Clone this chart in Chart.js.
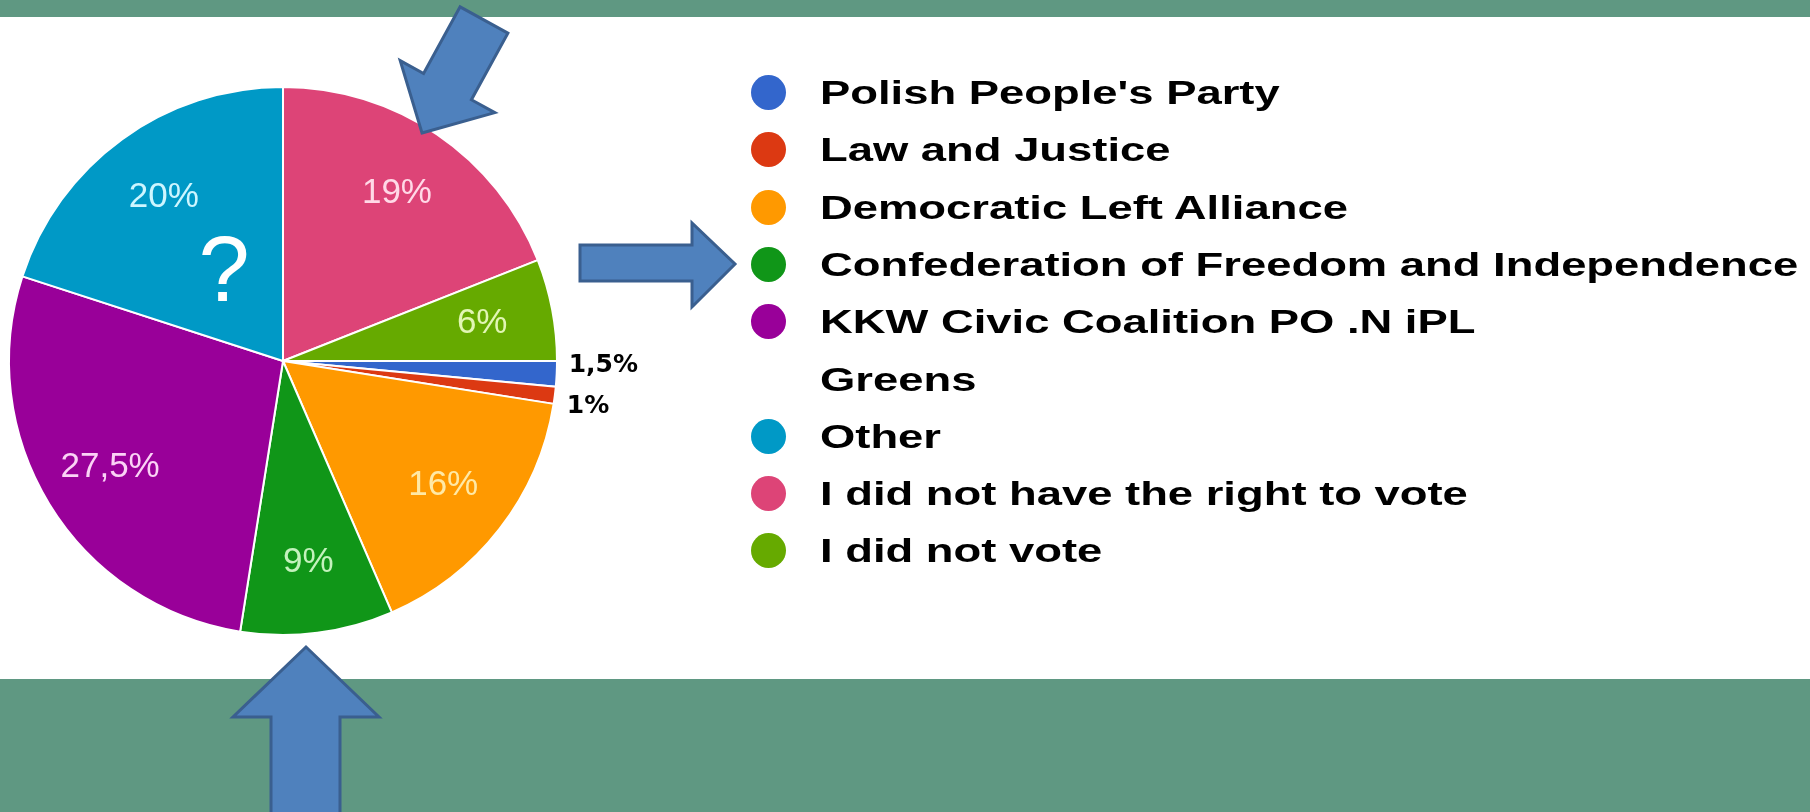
<!DOCTYPE html>
<html>
<head>
<meta charset="utf-8">
<script src="https://cdn.jsdelivr.net/npm/chart.js@4.4.1/dist/chart.umd.min.js"></script>
<style>
    html, body { margin: 0; padding: 0; }
    body {
        width: 1810px; height: 812px; overflow: hidden; position: relative;
        background: #5f9882;
        font-family: "Liberation Sans", Arial, sans-serif;
    }
    #pannello { position: absolute; left: 0; top: 17px; width: 1810px; height: 662px; background: #ffffff; }
    #grafico { position: absolute; left: 0; top: 0; }
    #legenda { position: absolute; left: 751px; top: 46.9px; }
    .voce { height: 57.3px; display: flex; align-items: center; }
    .pallino { width: 35px; height: 35px; border-radius: 50%; flex: none; margin-right: 34px; }
    .testo {
        display: inline-block; white-space: nowrap; line-height: 1;
        font-weight: bold; font-size: 33px; color: #000;
        transform: scaleX(1.375); transform-origin: 0 50%;
    }
    #frecce { position: absolute; left: 0; top: 0; pointer-events: none; }
</style>
</head>
<body>
<div id="pannello">
    <canvas id="grafico" width="1810" height="662"></canvas>
    <div id="legenda"></div>
</div>
<svg id="frecce" width="1810" height="812">
    <text x="224" y="301" text-anchor="middle" font-family="Liberation Sans, Arial, sans-serif" font-size="92" fill="#ffffff">?</text>
    <g fill="#4f81bd" stroke="#3a5f8f" stroke-width="3" stroke-linejoin="miter">
        <polygon points="422,133 494.8,112.6 471.4,99.7 507.9,33.1 460.1,6.9 423.6,73.5 400.2,60.6"/>
        <polygon points="580,245 692,245 692,223 735,264 692,307 692,281 580,281"/>
        <polygon points="306,647 379,717 340,717 340,815 271,815 271,717 233,717"/>
    </g>
</svg>
<script>
// Dati del grafico (percentuali)
const etichette = [
    "Polish People's Party",
    "Law and Justice",
    "Democratic Left Alliance",
    "Confederation of Freedom and Independence",
    "KKW Civic Coalition PO .N iPL",
    "Greens",
    "Other",
    "I did not have the right to vote",
    "I did not vote"
];
const percentuali = [1.5, 1, 16, 9, 27.5, 0, 20, 19, 6];
const colori = ["#3366cc", "#dc3912", "#ff9900", "#109618", "#990099", "#ffffff", "#0099c6", "#dd4477", "#66aa00"];
// colore del testo dentro le fette
const coloriEtichette = ["#000000", "#000000", "#ffe9a6", "#c4f2bd", "#fbd2f6", "#ffffff", "#cdf6ff", "#ffd9e7", "#e2f6b4"];

// Percentuali sulle fette: dentro se la fetta e' grande, fuori (in nero) se piccola
const pluginPercentuali = {
    id: "percentuali",
    afterDatasetsDraw(chart) {
        const ctx = chart.ctx;
        const meta = chart.getDatasetMeta(0);
        const esterne = [];

        meta.data.forEach((arco, i) => {
            const valore = percentuali[i];
            if (!valore) return;
            const { x, y, startAngle, endAngle, outerRadius } =
                arco.getProps(["x", "y", "startAngle", "endAngle", "outerRadius"], true);
            const medio = (startAngle + endAngle) / 2;
            const testo = String(valore).replace(".", ",") + "%";

            if (valore >= 3) {
                const r = outerRadius * 0.74;
                ctx.save();
                ctx.font = "35px 'Liberation Sans', Arial, sans-serif";
                ctx.fillStyle = coloriEtichette[i];
                ctx.textAlign = "center";
                ctx.textBaseline = "middle";
                ctx.fillText(testo, x + Math.cos(medio) * r, y + Math.sin(medio) * r);
                ctx.restore();
            } else {
                const r = outerRadius + 12;
                esterne.push({ testo, x: x + Math.cos(medio) * r, y: y + Math.sin(medio) * r });
            }
        });

        // allontana le etichette esterne troppo vicine
        const distanza = 41;
        for (let k = 1; k < esterne.length; k++) {
            const a = esterne[k - 1], b = esterne[k];
            if (b.y - a.y < distanza) {
                const centro = (a.y + b.y) / 2;
                a.y = centro - distanza / 2;
                b.y = centro + distanza / 2;
            }
        }

        ctx.save();
        ctx.font = "bold 25px 'DejaVu Sans', sans-serif";
        ctx.fillStyle = "#000000";
        ctx.textAlign = "left";
        ctx.textBaseline = "middle";
        esterne.forEach(e => ctx.fillText(e.testo, e.x, e.y));
        ctx.restore();
    }
};

new Chart(document.getElementById("grafico"), {
    type: "pie",
    data: {
        labels: etichette,
        datasets: [{
            data: percentuali,
            backgroundColor: colori,
            borderColor: "#ffffff",
            borderWidth: 2
        }]
    },
    options: {
        responsive: false,
        animation: false,
        rotation: 90,
        layout: { padding: { left: 8, top: 69, right: 1252, bottom: 43 } },
        plugins: {
            legend: { display: false },
            tooltip: { enabled: false }
        }
    },
    plugins: [pluginPercentuali]
});

// Legenda a destra, generata dagli stessi array
let htmlLegenda = "";
etichette.forEach((nome, i) => {
    const pallino = percentuali[i] > 0 ? colori[i] : "transparent";
    htmlLegenda += `<div class="voce">
            <span class="pallino" style="background:${pallino}"></span>
            <span class="testo">${nome}</span>
        </div>`;
});
document.getElementById("legenda").innerHTML = htmlLegenda;
</script>
</body>
</html>
